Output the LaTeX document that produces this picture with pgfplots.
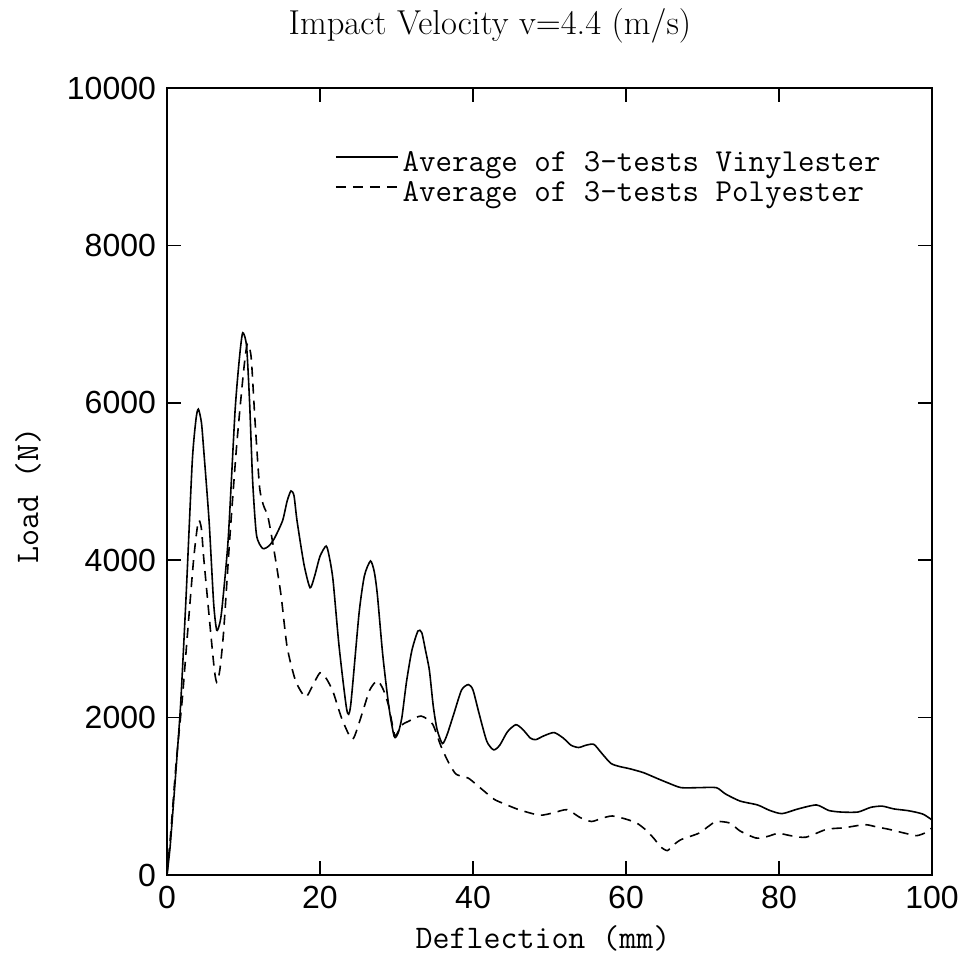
\documentclass[border=0pt]{standalone}
\usepackage{pgfplots}
\pgfplotsset{compat=1.18}
\usepackage{fontspec}
\setsansfont{Liberation Sans}

\pgfplotstableread{
x y
0 0
0.4 350
0.8 850
1.3 1500
1.8 2200
2.5 3550
3.3 5250
3.8 5800
4.1 5920
4.5 5750
4.8 5400
5.5 4500
6.1 3450
6.5 3110
6.9 3200
7.2 3400
8.0 4270
8.9 5900
9.5 6600
9.9 6890
10.4 6720
10.8 6000
11.2 5000
11.7 4320
12.5 4150
13.3 4180
14.0 4270
15.1 4500
15.7 4750
16.2 4880
16.6 4820
17.0 4500
17.9 3950
18.7 3650
19.3 3800
20.0 4050
20.8 4180
21.2 4050
21.7 3750
22.5 2900
23.5 2100
24.0 2150
25.1 3320
25.8 3800
26.6 3990
27.1 3850
27.5 3560
28.2 2800
29.0 2140
29.7 1760
30.2 1800
30.7 2000
31.3 2450
32.0 2850
32.8 3100
33.3 3080
33.8 2850
34.3 2600
34.8 2150
35.3 1850
36.0 1670
36.6 1780
37.5 2050
38.5 2350
39.4 2420
40.0 2350
40.8 2050
41.8 1700
42.7 1590
43.5 1650
44.5 1820
45.6 1910
46.5 1850
47.5 1740
48.2 1720
49.3 1770
50.6 1810
51.8 1740
52.8 1650
53.8 1620
54.8 1650
55.8 1660
56.8 1550
58.0 1420
59.1 1380
60.5 1350
62.3 1300
64.0 1230
65.5 1170
67.2 1110
69.5 1110
71.8 1110
73.0 1030
74.9 940
77.2 890
78.8 820
80.4 780
82.5 840
84.9 890
86.5 820
88.1 800
90.3 800
92.0 860
93.5 875
95.0 840
96.7 820
97.8 800
98.9 770
100 700
}\vinyl

\pgfplotstableread{
x y
0 0
0.5 550
1.2 1430
2.0 2240
2.7 3090
3.5 4030
4.1 4500
4.5 4400
4.8 4030
5.7 3090
6.2 2600
6.5 2450
6.9 2600
7.4 3090
8.2 4270
9.1 5450
10.0 6390
10.5 6750
11.0 6580
11.5 5780
12.1 4930
12.6 4700
13.2 4550
14.0 4120
14.9 3560
15.7 2900
16.8 2470
18.1 2260
19.0 2400
20.0 2570
20.8 2500
21.7 2330
22.8 2000
24.0 1740
24.5 1760
25.5 2050
26.5 2350
27.5 2470
28.3 2350
29.0 2140
29.8 1770
30.6 1900
31.5 1950
33.2 2020
34.7 1920
35.8 1640
36.8 1430
37.8 1280
39.4 1230
41.4 1070
42.8 960
44.2 900
46.0 830
48.7 760
50.5 790
52.3 830
54.0 730
55.5 680
56.8 720
58.2 750
60.0 710
61.4 660
62.5 580
63.6 470
64.5 360
65.4 310
66.2 380
67.2 450
69.5 530
70.8 620
71.8 680
73.6 660
74.9 560
77.0 470
78.5 490
79.9 530
81.5 500
83.5 480
86.2 580
88.5 600
91.2 640
92.8 610
94.4 580
96.5 530
98.0 500
99.2 540
100 600
}\poly

\begin{document}
\begin{tikzpicture}
\begin{axis}[
  at={(0pt,0pt)}, anchor=south west,
  scale only axis, width=382.5pt, height=393.5pt,
  xmin=0, xmax=100, ymin=0, ymax=10000,
  xtick={0,20,...,100}, ytick={0,2000,...,10000},
  tick align=inside, major tick length=7pt,
  axis line style={line width=0.9pt},
  tick style={line width=0.8pt, black},
  scaled y ticks=false,
  /pgf/number format/1000 sep={},
  /pgf/number format/assume math mode=true,
  tick label style={font=\fontsize{16}{18}\selectfont\sffamily},
  xticklabel style={yshift=-2pt},
  yticklabel style={xshift=-2pt},
  xlabel={Deflection (mm)},
  ylabel={Load (N)},
  xlabel style={at={(rel axis cs:0.4915,0)}, anchor=base, yshift=-36.5pt, font=\fontsize{16.5}{18}\selectfont\ttfamily},
  ylabel style={at={(axis description cs:-0.1817,0.4828)}, anchor=center, font=\fontsize{16.5}{18}\selectfont\ttfamily},
  title={Impact Velocity v=4.4 (m/s)},
  title style={at={(rel axis cs:0.4222,1)}, anchor=base, yshift=20.5pt, font=\fontsize{17.3}{20}\selectfont},
  legend style={draw=none, fill=none, at={(rel axis cs:0.2196,0.9212)}, anchor=north west,
    inner sep=0pt, outer sep=0pt, row sep=0pt, column sep=2pt,
    font=\fontsize{16}{15}\selectfont\ttfamily,
    nodes={inner sep=0pt, text height=10.5pt, text depth=4.5pt}},
  legend cell align=left,
  legend image code/.code={\draw[#1] (0pt,4pt) -- (31pt,4pt);},
]
\addplot[black, line width=0.8pt, smooth, tension=0.4] table[x=x,y=y] {\vinyl};
\addplot[black, line width=0.8pt, dash pattern=on 5pt off 3.5pt, smooth, tension=0.4] table[x=x,y=y] {\poly};
\legend{Average of 3-tests Vinylester, Average of 3-tests Polyester}
\end{axis}
\pgfresetboundingbox
\path[use as bounding box] (-83.5pt,-42pt) rectangle (402.5pt,437.5pt);
\end{tikzpicture}
\end{document}
